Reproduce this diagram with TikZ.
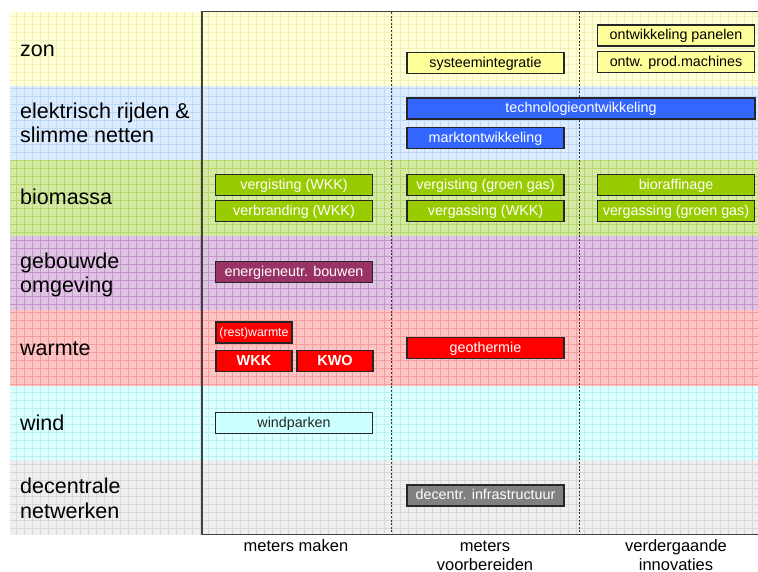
\documentclass[tikz,border=0pt]{standalone}
\usepackage{fontspec}
\setmainfont{Liberation Sans}
\definecolor{zonF}{HTML}{FFFFD8}\definecolor{zonG}{HTML}{F2F2B8}
\definecolor{eleF}{HTML}{DDECFF}\definecolor{eleG}{HTML}{BED8F7}
\definecolor{bioF}{HTML}{D4E9A2}\definecolor{bioG}{HTML}{B6D672}
\definecolor{gebF}{HTML}{DFC4E3}\definecolor{gebG}{HTML}{C496CC}
\definecolor{warF}{HTML}{FFC4C4}\definecolor{warG}{HTML}{F39C9C}
\definecolor{winF}{HTML}{DCFFFF}\definecolor{winG}{HTML}{BAF2F2}
\definecolor{decF}{HTML}{EFEFEF}\definecolor{decG}{HTML}{D8D8D8}
\definecolor{bYel}{HTML}{FFFF99}
\definecolor{bBlu}{HTML}{3366FF}
\definecolor{bGrn}{HTML}{99CC00}
\definecolor{bPur}{HTML}{993366}
\definecolor{bRed}{HTML}{FF0000}
\definecolor{bCya}{HTML}{CCFFFF}
\definecolor{bGry}{HTML}{808080}
\newcommand{\bandrow}[4]{%
  \fill[#3] (10,#1) rectangle (758,#2);
  \draw[#4, line width=0.5pt, step=8pt] (10,#1) grid (758,#2);}
\tikzset{
  bx/.style={draw=black!85, line width=1.3pt, minimum height=21pt, inner sep=0pt,
    font=\fontsize{14.3}{16}\selectfont, text height=9pt, text depth=0.5pt},
  wbx/.style={bx, minimum width=157pt},
  sbx/.style={bx, minimum width=76pt},
  lab/.style={anchor=base west, inner sep=0pt, font=\fontsize{21.5}{25}\selectfont},
  blab/.style={anchor=base, inner sep=0pt, font=\fontsize{16.5}{20}\selectfont},
  frame/.style={draw=black!75, line width=1.3pt},
  sep/.style={draw=black!80, line width=1pt, dash pattern=on 2pt off 1.6pt}
}
\begin{document}
\begin{tikzpicture}[x=1pt,y=-1pt]
\useasboundingbox (0,0) rectangle (758,572);
\fill[white] (0,0) rectangle (758,572);
% bands
\bandrow{12}{86}{zonF}{zonG}
\bandrow{86}{160}{eleF}{eleG}
\bandrow{160}{236}{bioF}{bioG}
\bandrow{236}{310}{gebF}{gebG}
\bandrow{310}{386}{warF}{warG}
\bandrow{386}{460}{winF}{winG}
\bandrow{460}{535}{decF}{decG}
% frame
\coordinate (ftr) at (758,11.5);
\coordinate (ftl) at (202,11.5);
\coordinate (fbl) at (202,534.5);
\coordinate (fbr) at (758,534.5);
\draw[frame] (ftr) -- (ftl) -- (fbl) -- (fbr);
\coordinate (d1t) at (391,12); \coordinate (d1b) at (391,534);
\coordinate (d2t) at (579,12); \coordinate (d2b) at (579,534);
\draw[sep] (d1t) -- (d1b);
\draw[sep] (d2t) -- (d2b);
% left labels
\node[lab] (lzon) at (20,57) {zon};
\node[lab] (lel1) at (20,119) {elektrisch rijden \&};
\node[lab] (lel2) at (20,143) {slimme netten};
\node[lab] (lbio) at (20,205) {biomassa};
\node[lab] (lgeb1) at (20,269) {gebouwde};
\node[lab] (lgeb2) at (20,293) {omgeving};
\node[lab] (lwar) at (20,355) {warmte};
\node[lab] (lwin) at (20,430) {wind};
\node[lab] (ldec1) at (20,493) {decentrale};
\node[lab] (ldec2) at (20,518) {netwerken};
% bottom labels
\node[blab] (bmm) at (296,551) {meters maken};
\node[blab] (bmv1) at (485,551) {meters};
\node[blab] (bmv2) at (485,570) {voorbereiden};
\node[blab] (bvi1) at (676,551) {verdergaande};
\node[blab] (bvi2) at (676,570) {innovaties};
% boxes
\node[wbx, fill=bYel] (pan) at (676,35.5) {ontwikkeling panelen};
\node[wbx, fill=bYel] (prod) at (676,62) {ontw. prod.machines};
\node[wbx, fill=bYel] (sys) at (485.5,63) {systeemintegratie};
\node[bx, minimum width=348pt, fill=bBlu, text=white] (tech) at (581,108.5) {technologieontwikkeling};
\node[wbx, fill=bBlu, text=white] (markt) at (485.5,138) {marktontwikkeling};
\node[wbx, fill=bGrn, text=white] (vgw) at (294,185) {vergisting (WKK)};
\node[wbx, fill=bGrn, text=white] (vbw) at (294,211) {verbranding (WKK)};
\node[wbx, fill=bGrn, text=white] (vgg) at (485.5,185) {vergisting (groen gas)};
\node[wbx, fill=bGrn, text=white] (vsw) at (485.5,211) {vergassing (WKK)};
\node[wbx, fill=bGrn, text=white] (bior) at (676,185) {bioraffinage};
\node[wbx, fill=bGrn, text=white] (vsg) at (676,211) {vergassing (groen gas)};
\node[wbx, fill=bPur, text=white] (enb) at (294,272) {energieneutr. bouwen};
\node[sbx, fill=bRed, text=white, font=\fontsize{12.3}{14}\selectfont] (rest) at (254,332.5) {(rest)warmte};
\node[sbx, fill=bRed, text=white, font=\bfseries\fontsize{14.5}{16}\selectfont] (wkk) at (254,361) {WKK};
\node[sbx, fill=bRed, text=white, font=\bfseries\fontsize{14.5}{16}\selectfont] (kwo) at (335,361) {KWO};
\node[wbx, fill=bRed, text=white] (geo) at (485.5,348) {geothermie};
\node[wbx, fill=bCya, text=black!85] (wpk) at (294,423) {windparken};
\node[wbx, fill=bGry, text=white] (dinf) at (485.5,495.5) {decentr. infrastructuur};
\end{tikzpicture}
\end{document}
